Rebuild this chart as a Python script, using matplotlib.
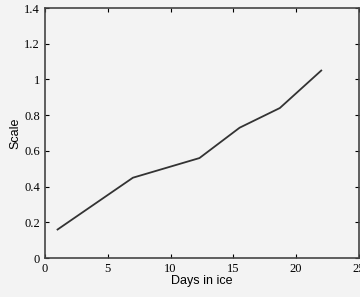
import numpy as np
import matplotlib.pyplot as plt
from matplotlib.ticker import FixedLocator, FixedFormatter

days = [1, 7, 12.3, 15.5, 18.7, 22]
scale = [0.16, 0.45, 0.56, 0.73, 0.84, 1.05]

xticks = [0, 5, 10, 15, 20, 25]
yticks = [0, 0.2, 0.4, 0.6, 0.8, 1, 1.2, 1.4]
ylabels = ['0', '0.2', '0.4', '0.6', '0.8', '1', '1.2', '1.4']

plt.rcParams['font.family'] = 'Liberation Serif'

fig = plt.figure(figsize=(3.6, 2.97), dpi=100)
fig.patch.set_facecolor('#f3f3f3')
ax = fig.add_axes([0.125, 0.131, 0.872, 0.842])
ax.set_facecolor('#f3f3f3')

ax.plot(days, scale, color='#333333', lw=1.3)

ax.set_xlim(0, 25)
ax.set_ylim(0, 1.4)
ax.xaxis.set_major_locator(FixedLocator(xticks))
ax.yaxis.set_major_locator(FixedLocator(yticks))
ax.yaxis.set_major_formatter(FixedFormatter(ylabels))
ax.tick_params(direction='in', top=True, right=True, labelsize=9, length=3)
for s in ax.spines.values():
    s.set_color('#444444')
    s.set_linewidth(1.2)

ax.set_xlabel('Days in ice', fontsize=9, family='Liberation Sans', labelpad=0)
ax.set_ylabel('Scale', fontsize=9, family='Liberation Sans', labelpad=2)

fig.savefig('out.png', dpi=100, facecolor=fig.get_facecolor())
